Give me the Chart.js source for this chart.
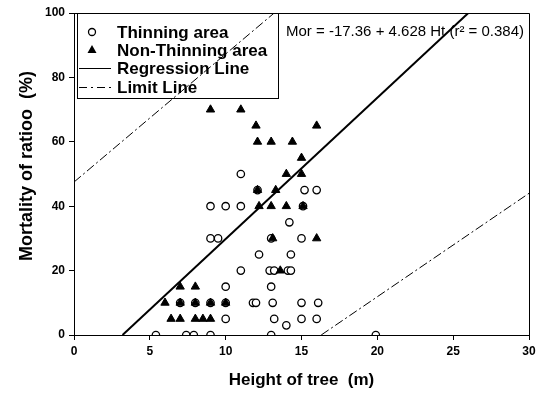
<!DOCTYPE html>
<html>
<head>
<meta charset="utf-8">
<script src="https://cdn.jsdelivr.net/npm/chart.js@4.4.1/dist/chart.umd.min.js"></script>
<style>
  html, body { margin: 0; padding: 0; background: #fff; }
</style>
</head>
<body>
<canvas id="chart" width="554" height="393"></canvas>
<script>
// Thinning area (open circles)
const thinX = [5.4, 7.4, 7.9, 9.0, 13.0, 19.9,
               14.0,
               10.0, 13.2, 15.0, 16.0,
               7.0, 8.0, 9.0, 10.0, 11.8, 12.0, 13.1, 15.0, 16.1,
               10.0, 13.0,
               11.0, 12.9, 13.2, 14.1, 14.3,
               12.2, 14.3,
               9.0, 9.5, 13.0, 15.0,
               14.2,
               9.0, 10.0, 11.0, 15.1,
               12.1, 15.2, 16.0,
               11.0];
const thinY = [0, 0, 0, 0, 0, 0,
               3,
               5, 5, 5, 5,
               10, 10, 10, 10, 10, 10, 10, 10, 10,
               15, 15,
               20, 20, 20, 20, 20,
               25, 25,
               30, 30, 30, 30,
               35,
               40, 40, 40, 40,
               45, 45, 45,
               50];

// Non-thinning area (filled triangles)
const nonX = [6.4, 7.0, 8.0, 8.5, 9.0,
              6.0, 7.0, 8.0, 9.0, 10.0,
              7.0, 8.0,
              13.6,
              13.1, 16.0,
              12.2, 13.0, 14.0, 15.1,
              12.1, 13.3,
              14.0, 15.0,
              15.0,
              12.1, 13.0, 14.4,
              12.0, 16.0,
              9.0, 11.0];
const nonY = [5, 5, 5, 5, 5,
              10, 10, 10, 10, 10,
              15, 15,
              20,
              30, 30,
              40, 40, 40, 40,
              45, 45,
              50, 50,
              55,
              60, 60, 60,
              65, 65,
              70, 70];

// line end points
const regLine = [[3.2, 0], [26.0, 100]];
const limitUpper = [[0, 47.5], [13.2, 100]];
const limitLower = [[16.3, 0], [30, 44]];

const xTicks = [0, 5, 10, 15, 20, 25, 30];
const yTicks = [0, 20, 40, 60, 80, 100];

const legendLabels = ['Thinning area', 'Non-Thinning area', 'Regression Line', 'Limit Line'];
const equationText = 'Mor = -17.36 + 4.628 Ht (r\u00B2 = 0.384)';
const yTitle = 'Mortality of ratioo  (%)';
const xTitle = 'Height of tree  (m)';

const FONT = "'Liberation Sans', Arial, sans-serif";

function toPts(xs, ys) {
  return xs.map((x, i) => ({ x: x, y: ys[i] }));
}
function linePts(arr) {
  return arr.map(p => ({ x: p[0], y: p[1] }));
}

const limitDash = [9, 3, 2, 3];

const frame = {
  id: 'frame',
  afterDraw(chart) {
    const ctx = chart.ctx;
    const a = chart.chartArea;
    ctx.save();
    ctx.strokeStyle = '#000';
    ctx.fillStyle = '#000';
    ctx.lineWidth = 1;
    // top and right edge of the box
    ctx.beginPath();
    ctx.moveTo(a.left, a.top + 0.5);
    ctx.lineTo(a.right + 0.5, a.top + 0.5);
    ctx.lineTo(a.right + 0.5, a.bottom);
    ctx.stroke();

    // legend box
    const bx = a.left + 3, by = a.top, bw = 201, bh = 85;
    ctx.strokeRect(bx + 0.5, by + 0.5, bw, bh);
    const rows = [by + 19, by + 37, by + 55, by + 74];
    const sx = 92, tx = 117;

    ctx.lineWidth = 1.3;
    ctx.beginPath();
    ctx.arc(sx, rows[0], 3.5, 0, Math.PI * 2);
    ctx.stroke();

    ctx.beginPath();
    ctx.moveTo(sx, rows[1] - 5);
    ctx.lineTo(sx + 4.5, rows[1] + 3);
    ctx.lineTo(sx - 4.5, rows[1] + 3);
    ctx.closePath();
    ctx.fill();

    ctx.lineWidth = 1;
    ctx.beginPath();
    ctx.moveTo(bx + 2, rows[2] + 0.5);
    ctx.lineTo(bx + 34, rows[2] + 0.5);
    ctx.stroke();

    ctx.setLineDash([8, 4, 2, 4]);
    ctx.beginPath();
    ctx.moveTo(bx + 2, rows[3] + 0.5);
    ctx.lineTo(bx + 34, rows[3] + 0.5);
    ctx.stroke();
    ctx.setLineDash([]);

    ctx.font = 'bold 17px ' + FONT;
    ctx.textBaseline = 'middle';
    ctx.textAlign = 'left';
    legendLabels.forEach((t, i) => ctx.fillText(t, tx, rows[i] + 1));

    ctx.font = '15px ' + FONT;
    ctx.fillText(equationText, 286, a.top + 19);

    // y axis title
    ctx.font = 'bold 18px ' + FONT;
    ctx.textAlign = 'center';
    ctx.translate(27, 166);
    ctx.rotate(-Math.PI / 2);
    ctx.fillText(yTitle, 0, 0);
    ctx.restore();
  }
};

new Chart(document.getElementById('chart'), {
  type: 'scatter',
  data: {
    datasets: [
      {
        label: legendLabels[1],
        data: toPts(nonX, nonY),
        pointStyle: 'triangle',
        pointRadius: 4.8,
        backgroundColor: '#000',
        borderColor: '#000',
        borderWidth: 1,
        order: 1
      },
      {
        label: legendLabels[0],
        data: toPts(thinX, thinY),
        pointStyle: 'circle',
        pointRadius: 3.7,
        backgroundColor: '#fff',
        borderColor: '#000',
        borderWidth: 1.3,
        order: 2
      },
      {
        label: legendLabels[2],
        data: linePts(regLine),
        showLine: true,
        pointRadius: 0,
        borderColor: '#000',
        borderWidth: 2,
        order: 3
      },
      {
        label: legendLabels[3],
        data: linePts(limitUpper),
        showLine: true,
        pointRadius: 0,
        borderColor: '#000',
        borderWidth: 1,
        borderDash: limitDash,
        order: 4
      },
      {
        label: legendLabels[3],
        data: linePts(limitLower),
        showLine: true,
        pointRadius: 0,
        borderColor: '#000',
        borderWidth: 1,
        borderDash: limitDash,
        order: 4
      }
    ]
  },
  options: {
    responsive: false,
    animation: false,
    devicePixelRatio: 1,
    layout: { padding: { left: 0, right: 25, top: 13, bottom: 0 } },
    plugins: {
      legend: { display: false },
      tooltip: { enabled: false }
    },
    scales: {
      x: {
        type: 'linear',
        min: 0, max: 30,
        afterFit(s) { s.height = 58; },
        afterBuildTicks(s) { s.ticks = xTicks.map(v => ({ value: v })); },
        border: { color: '#000', width: 1 },
        grid: { drawOnChartArea: false, drawTicks: true, tickLength: 5, color: '#000' },
        ticks: { color: '#000', padding: 4, font: { family: FONT, size: 12, weight: 'bold' } },
        title: {
          display: true, text: xTitle, color: '#000',
          font: { family: FONT, size: 17, weight: 'bold' },
          padding: { top: 4, bottom: 2 }
        }
      },
      y: {
        type: 'linear',
        min: 0, max: 100,
        afterFit(s) { s.width = 74; },
        afterBuildTicks(s) { s.ticks = yTicks.map(v => ({ value: v })); },
        border: { color: '#000', width: 1 },
        grid: { drawOnChartArea: false, drawTicks: true, tickLength: 5, color: '#000' },
        ticks: { color: '#000', padding: 4, font: { family: FONT, size: 12, weight: 'bold' } },
        title: { display: false }
      }
    }
  },
  plugins: [frame]
});
</script>
</body>
</html>
